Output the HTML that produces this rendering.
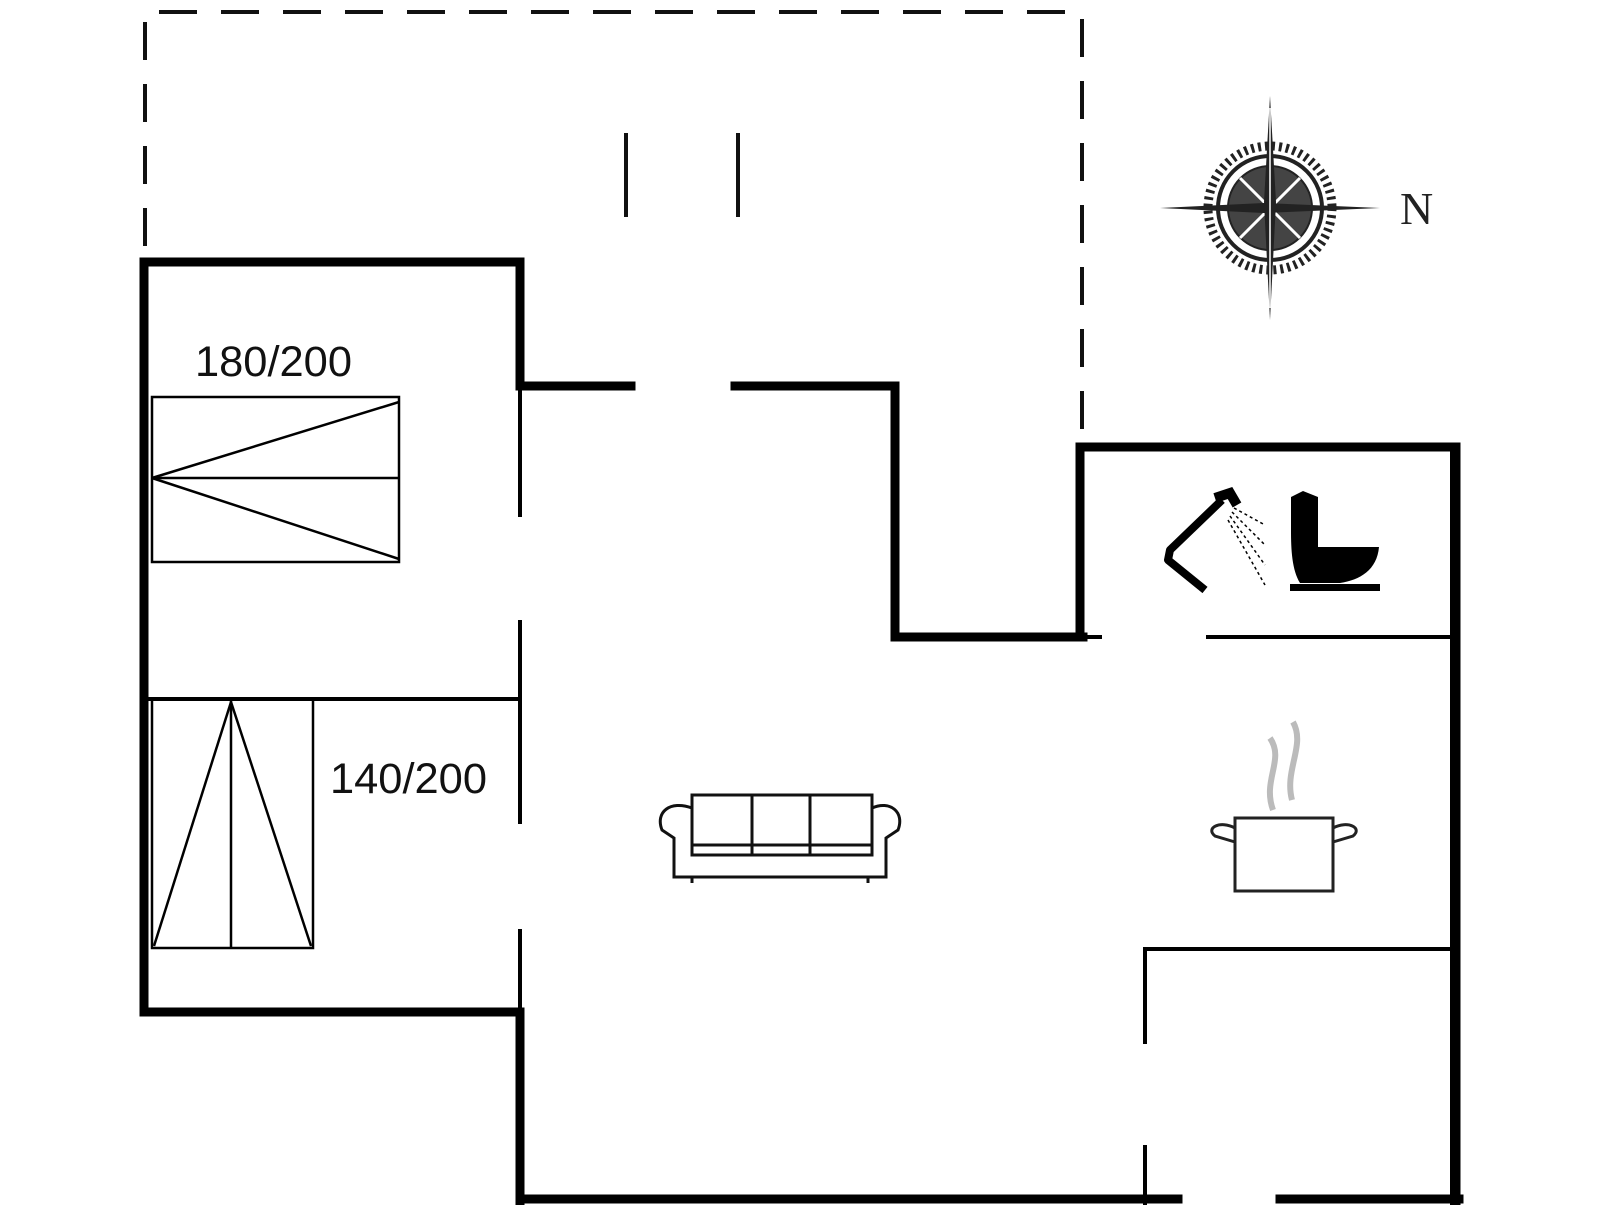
<!DOCTYPE html>
<html><head><meta charset="utf-8"><style>
html,body{margin:0;padding:0;background:#fff;}
svg{display:block;}
</style></head><body>
<svg width="1606" height="1205" viewBox="0 0 1606 1205" xmlns="http://www.w3.org/2000/svg">
<rect width="1606" height="1205" fill="#fff"/>
<g stroke="#111" stroke-width="4" fill="none" stroke-dasharray="38,24">
<path d="M145 246 L145 12 L1082 12 L1082 435"/>
</g>
<g stroke="#111" stroke-width="4">
<line x1="626" y1="133" x2="626" y2="217"/>
<line x1="738" y1="133" x2="738" y2="217"/>
</g>
<g stroke="#000" stroke-width="9" fill="none" stroke-linecap="square">
<path d="M520 386 L520 262 L144 262 L144 1012 L520 1012 L520 1205"/>
<line x1="520" y1="386" x2="631" y2="386"/>
<path d="M735 386 L895 386 L895 637 L1083 637"/>
<path d="M1080 637 L1080 447 L1456 447 L1456 1205"/>
<line x1="520" y1="1199" x2="1178" y2="1199"/>
<line x1="1280" y1="1199" x2="1459" y2="1199"/>
</g>
<g stroke="#000" stroke-width="4" fill="none">
<line x1="520" y1="386" x2="520" y2="517"/>
<line x1="520" y1="620" x2="520" y2="824"/>
<line x1="520" y1="929" x2="520" y2="1012"/>
<line x1="144" y1="699" x2="520" y2="699"/>
<line x1="1083" y1="637" x2="1102" y2="637"/>
<line x1="1206" y1="637" x2="1452" y2="637"/>
<line x1="1452" y1="447" x2="1452" y2="1205"/>
<line x1="1143" y1="949" x2="1452" y2="949"/>
<line x1="1145" y1="949" x2="1145" y2="1044"/>
<line x1="1145" y1="1145" x2="1145" y2="1205"/>
</g>
<g stroke="#000" stroke-width="2.5" fill="none">
<rect x="152" y="397" width="247" height="165"/>
<line x1="152" y1="478" x2="399" y2="478"/>
<line x1="152" y1="478" x2="399" y2="402"/>
<line x1="152" y1="478" x2="399" y2="559"/>
<rect x="152" y="699" width="161" height="249"/>
<line x1="231" y1="699" x2="231" y2="948"/>
<line x1="231" y1="702" x2="154" y2="946"/>
<line x1="231" y1="702" x2="311" y2="946"/>
</g>
<g font-family="'Liberation Sans',sans-serif" font-size="43" fill="#111">
<text x="195" y="376" textLength="157" lengthAdjust="spacingAndGlyphs">180/200</text>
<text x="330" y="793" textLength="157" lengthAdjust="spacingAndGlyphs">140/200</text>
</g>
<g stroke="#111" stroke-width="3" fill="none">
<rect x="692" y="795" width="180" height="60"/>
<line x1="752" y1="795" x2="752" y2="855"/>
<line x1="810" y1="795" x2="810" y2="855"/>
<line x1="692" y1="845" x2="872" y2="845"/>
<path d="M692 808 C670 800 655 812 662 830 L674 838 L674 877 L886 877 L886 838 L898 830 C905 812 890 800 872 808"/>
<line x1="692" y1="877" x2="692" y2="883"/><line x1="868" y1="877" x2="868" y2="883"/>
</g>
<g stroke="#222" stroke-width="3" fill="none">
<rect x="1235" y="818" width="98" height="73"/>
<path d="M1235 828 C1220 820 1205 828 1215 836 L1235 842"/>
<path d="M1333 828 C1348 820 1363 828 1353 836 L1333 842"/>
</g>
<g stroke="#bbb" stroke-width="6" fill="none">
<path d="M1270 738 C1285 760 1262 780 1273 810"/>
<path d="M1293 722 C1306 745 1284 770 1292 800"/>
</g>
<g stroke="#000" fill="none">
<path d="M1222 500 L1170 550 L1168 560 L1205 590" stroke-width="8" stroke-linejoin="round"/>
<path d="M1215 498 L1230 493 L1237 505" stroke-width="10"/>
<g stroke-width="1.5" stroke-dasharray="3,3">
<line x1="1234" y1="508" x2="1265" y2="525"/>
<line x1="1232" y1="512" x2="1265" y2="545"/>
<line x1="1230" y1="516" x2="1265" y2="565"/>
<line x1="1228" y1="520" x2="1265" y2="585"/>
</g>
</g>
<path d="M1291 497 L1303 491 L1318 497 L1318 547 L1379 547 C1377 570 1360 580 1340 583 L1300 583 C1292 570 1291 550 1291 530 Z" fill="#000"/>
<rect x="1290" y="584" width="90" height="7" fill="#000"/>
<g transform="translate(1270,208)">
<circle r="62" fill="none" stroke="#222" stroke-width="9" stroke-dasharray="3,4"/>
<circle r="52" fill="none" stroke="#222" stroke-width="4"/>
<circle r="42" fill="#444" stroke="#222" stroke-width="2"/>
<g stroke="#fff" stroke-width="3"><line x1="-30" y1="-30" x2="30" y2="30"/><line x1="-30" y1="30" x2="30" y2="-30"/></g>
<polygon points="0,-112 6,-6 0,112 -6,-6" fill="#222"/>
<polygon points="-110,0 -6,-5 110,0 -6,5" fill="#222"/>
<line x1="0" y1="-100" x2="0" y2="100" stroke="#fff" stroke-width="1.5"/>
</g>
<text x="1400" y="224" font-family="'Liberation Serif',serif" font-size="46" fill="#222">N</text>
</svg>
</body></html>
